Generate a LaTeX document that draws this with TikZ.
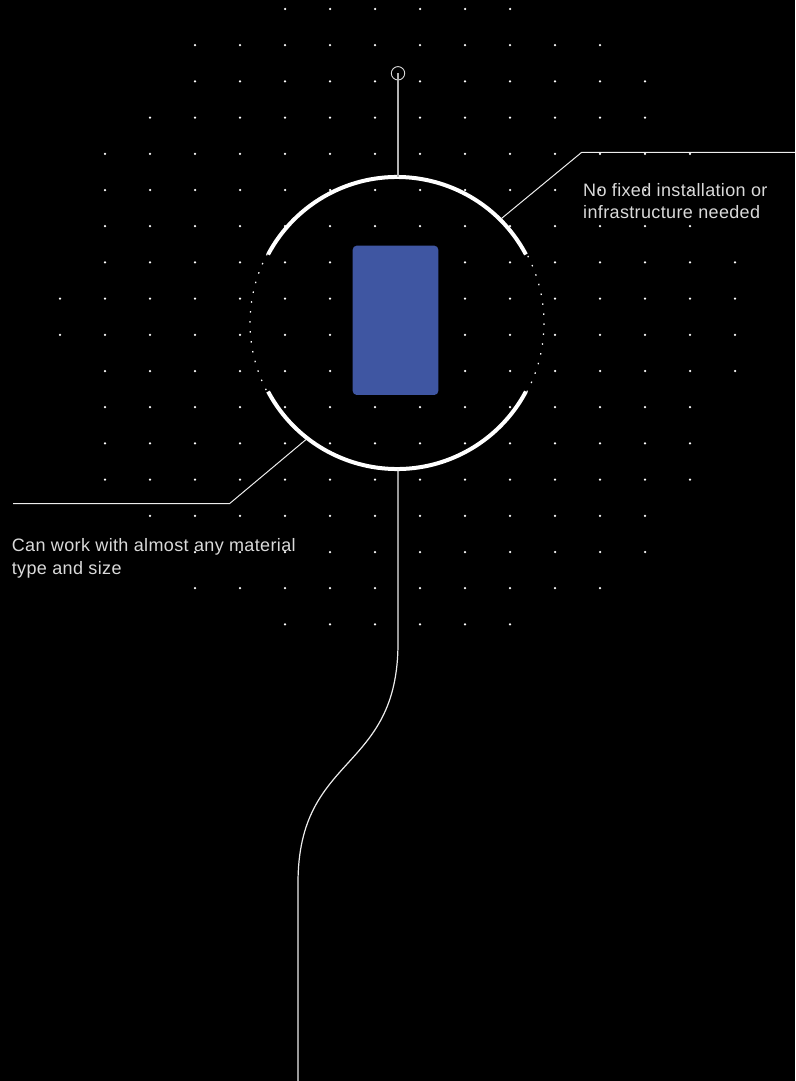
\documentclass[tikz,border=0pt]{standalone}
\usepackage{fontspec}
\newfontfamily\notefont{Liberation Sans}[LetterSpace=2.0]
\usepackage{tikz}
\usetikzlibrary{calc}
\definecolor{canvas}{HTML}{000000}
\definecolor{devblue}{HTML}{3F56A2}
\definecolor{notegrey}{HTML}{DADADA}
\definecolor{stemgrey}{HTML}{B4B4B4}
\definecolor{wiregrey}{HTML}{EDEDED}

\begin{document}
\begin{tikzpicture}[
  x=1pt, y=-1pt,
  griddot/.style={fill=white},
  ringarc/.style={draw=white, line width=4pt},
  ringdots/.style={draw=white, line width=1.2pt, dash pattern=on 1.5pt off 8.5pt},
  device/.style={rectangle, rounded corners=4pt, fill=devblue,
    minimum width=85.6pt, minimum height=149.3pt, inner sep=0pt},
  pin/.style={circle, draw=white!85!black, line width=0.9pt, minimum size=13.4pt, inner sep=0pt},
  stem/.style={draw=stemgrey, line width=1.3pt},
  wire/.style={draw=wiregrey, line width=1.2pt},
  leader/.style={draw=wiregrey, line width=1pt},
  note/.style={font=\notefont\fontsize{18}{22.6}\selectfont, text=notegrey,
    align=left, inner sep=0pt, anchor=base west}
]

% Black page, fixed to the reference size
\fill[canvas] (0,0) rectangle (795,1081);
\useasboundingbox (0,0) rectangle (795,1081);

% Dot grid, one row range per line
\foreach \row/\from/\to in {0/5/10, 1/3/12, 2/3/13, 3/2/13, 4/1/14, 5/1/14,
    6/1/14, 7/1/15, 8/0/15, 9/0/15, 10/1/15, 11/1/14, 12/1/14, 13/1/14,
    14/2/13, 15/3/13, 16/3/12, 17/5/10}
  \foreach \col in {\from,...,\to}
    \fill[griddot] ({60+45*\col},{9+36.2*\row}) circle (1.25pt);

% Ring round the device
\coordinate (hub) at (397,323);
\coordinate (ringtop) at (398,177);
\coordinate (ringbot) at (398,469);
\draw[ringarc] ($(hub)+(28:146pt)$) arc[start angle=28, end angle=152, radius=146pt];
\draw[ringarc] ($(hub)+(208:146pt)$) arc[start angle=208, end angle=332, radius=146pt];
\draw[ringdots] ($(hub)+(-28:147pt)$) arc[start angle=-28, end angle=28, radius=147pt];
\draw[ringdots] ($(hub)+(152:147pt)$) arc[start angle=152, end angle=208, radius=147pt];

\node[device] (device) at (395.5,320.3) {};

% Pin on top
\node[pin] (pin) at (398,73.3) {};
\draw[stem] (pin.center) -- (ringtop);

% Wire running down and off the page
\coordinate (bendtop) at (398,643);
\coordinate (bendbot) at (298,883);
\coordinate (tailend) at (298,1081);
\draw[wire] (ringbot) -- (bendtop) .. controls (398,773) and (298,753) .. (bendbot) -- (tailend);

% Leaders and notes (base = last line)
\coordinate (rightknee) at (581.7,152.3);
\coordinate (rightend) at (795,152.3);
\draw[leader] ($(hub)+(45:148pt)$) -- (rightknee) -- (rightend);
\node[note] (noteright) at (583,218.6) {No fixed installation or\\infrastructure needed};

\coordinate (leftknee) at (229.7,503.5);
\coordinate (leftend) at (13,503.5);
\draw[leader] ($(hub)+(232:148pt)$) -- (leftknee) -- (leftend);
\node[note] (noteleft) at (11.7,574.3) {Can work with almost any material\\type and size};

\end{tikzpicture}
\end{document}
